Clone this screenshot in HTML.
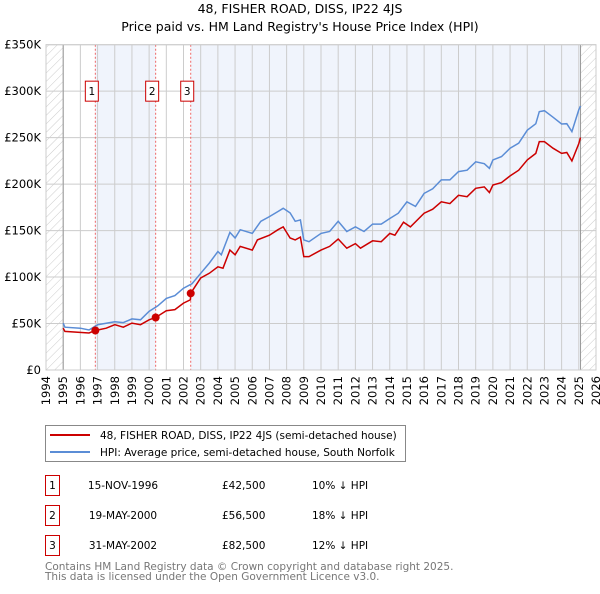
<!DOCTYPE html>
<html><head><meta charset="utf-8"><style>
body{margin:0;background:#fff;font-family:"DejaVu Sans","Liberation Sans",sans-serif;}
svg text{font-family:"DejaVu Sans","Liberation Sans",sans-serif;}
</style></head><body>
<svg id="chart" width="600" height="590" xmlns="http://www.w3.org/2000/svg">
<defs><pattern id="hatch" patternUnits="userSpaceOnUse" width="6" height="6" patternTransform="rotate(45)"><line x1="0" y1="0" x2="0" y2="6" stroke="#ccc" stroke-width="1"/></pattern></defs>
<text x="300" y="13" font-size="12.5" text-anchor="middle">48, FISHER ROAD, DISS, IP22 4JS</text>
<text x="300" y="31" font-size="12.5" text-anchor="middle">Price paid vs. HM Land Registry's House Price Index (HPI)</text>
<g id="plot"></g>
<g>
<rect x="45.5" y="425.5" width="360" height="36" fill="#fff" stroke="#888"/>
<line x1="50" y1="435" x2="90" y2="435" stroke="#cc0000" stroke-width="2"/>
<text x="100" y="439" font-size="10.5">48, FISHER ROAD, DISS, IP22 4JS (semi-detached house)</text>
<line x1="50" y1="452" x2="90" y2="452" stroke="#5b8dd6" stroke-width="2"/>
<text x="100" y="456" font-size="10.5">HPI: Average price, semi-detached house, South Norfolk</text>
</g>
<g font-size="10.5">
<rect x="45.5" y="475.5" width="14" height="20" fill="#fff" stroke="#cc0000"/><text x="52.5" y="489" text-anchor="middle">1</text>
<text x="123" y="489" text-anchor="middle">15-NOV-1996</text><text x="222" y="489">£42,500</text><text x="312" y="489">10% ↓ HPI</text>
<rect x="45.5" y="505.5" width="14" height="20" fill="#fff" stroke="#cc0000"/><text x="52.5" y="519" text-anchor="middle">2</text>
<text x="123" y="519" text-anchor="middle">19-MAY-2000</text><text x="222" y="519">£56,500</text><text x="312" y="519">18% ↓ HPI</text>
<rect x="45.5" y="535.5" width="14" height="20" fill="#fff" stroke="#cc0000"/><text x="52.5" y="549" text-anchor="middle">3</text>
<text x="123" y="549" text-anchor="middle">31-MAY-2002</text><text x="222" y="549">£82,500</text><text x="312" y="549">12% ↓ HPI</text>
</g>
<text x="45" y="570" font-size="10.5" fill="#777">Contains HM Land Registry data © Crown copyright and database right 2025.</text>
<text x="45" y="580" font-size="10.5" fill="#777">This data is licensed under the Open Government Licence v3.0.</text>
</svg>
<script>
const yTicks=[0,50,100,150,200,250,300,350];
const yTickLabels=["£0","£50K","£100K","£150K","£200K","£250K","£300K","£350K"];
const years=[1994,1995,1996,1997,1998,1999,2000,2001,2002,2003,2004,2005,2006,2007,2008,2009,2010,2011,2012,2013,2014,2015,2016,2017,2018,2019,2020,2021,2022,2023,2024,2025,2026];
const hpiT=[1995.0,1995.1,1996,1996.5,1997,1998,1998.5,1999,1999.5,2000,2000.5,2001,2001.5,2002,2002.5,2003,2003.5,2004,2004.2,2004.7,2005,2005.3,2006,2006.5,2007,2007.5,2007.8,2008.2,2008.5,2008.8,2009,2009.3,2010,2010.5,2011,2011.5,2012,2012.5,2013,2013.5,2014,2014.5,2015,2015.5,2016,2016.5,2017,2017.5,2018,2018.5,2019,2019.5,2019.8,2020,2020.5,2021,2021.5,2022,2022.5,2022.7,2023,2023.5,2024,2024.3,2024.6,2025,2025.1];
const hpiV=[50.5,46,45,43,48.7,52,51,55,54,63,69,77,80,88,93,104,115,127.5,124,148,142,151,147,160,165,170.5,174,169,160,161.5,140,138,147,149,160,149,154,149,157,157,163,168.7,181,176,190,195,204.5,204.5,213.5,215,224,222,217,226,229.6,238.6,244,258,265,278,279,272,264.7,265,256.5,280,284];
const priceT=[1995,1995.1,1996.5,1996.87,1997.5,1998,1998.5,1999,1999.5,2000,2000.38,2001,2001.5,2002,2002.4,2002.42,2003,2003.5,2004,2004.3,2004.7,2005,2005.3,2006,2006.3,2007,2007.5,2007.8,2008.2,2008.5,2008.8,2009,2009.3,2010,2010.5,2011,2011.5,2012,2012.3,2013,2013.5,2014,2014.3,2014.8,2015.2,2016,2016.5,2017,2017.5,2018,2018.5,2019,2019.5,2019.8,2020,2020.5,2021,2021.5,2022,2022.5,2022.7,2023,2023.5,2024,2024.3,2024.6,2025,2025.1];
const priceV=[45,41.5,39.8,42.5,45,48.7,46,50.5,48.7,54,56.5,63.8,65,72,75.5,82.5,99,104,111,109.5,129,124,133,129,140,145,151,154,142,140,143,122,122,129,133,141,131,136,131,139,138,147,145,159,154,168.7,173,181,179,188,186.5,195.5,197,191,199,201.6,208.8,215,226,233,245.7,245.7,238.6,233,234,225,243.6,250];
const saleT=[1996.87,2000.38,2002.42];
const saleV=[42.5,56.5,82.5];
const saleLabels=["1","2","3"];
const X0=46,X1=596,Y0=370,Y1=44.7;
const x=t=>X0+(t-1994)/(2026-1994)*(X1-X0);
const y=v=>Y0-v/350*(Y0-Y1);
const NS="http://www.w3.org/2000/svg";
const g=document.getElementById('plot');
function mk(tag,attrs,parent){const e=document.createElementNS(NS,tag);for(const k in attrs)e.setAttribute(k,attrs[k]);(parent||g).appendChild(e);return e;}
const bands=[[1995,saleT[0],"#fff"],[saleT[0],saleT[1],"#f0f4fc"],[saleT[1],saleT[2],"#fff"],[saleT[2],2025.1,"#f0f4fc"]];
bands.forEach(b=>{const r=mk('rect',{x:x(b[0]),y:Y1,width:x(b[1])-x(b[0]),height:Y0-Y1,fill:b[2]});

});
const h1=mk('rect',{x:X0,y:Y1,width:x(1995)-X0,height:Y0-Y1,fill:"url(#hatch)"});


const h2=mk('rect',{x:x(2025.1),y:Y1,width:X1-x(2025.1),height:Y0-Y1,fill:"url(#hatch)"});


years.forEach(yr=>{const l=mk('line',{x1:x(yr),x2:x(yr),y1:Y1,y2:Y0,stroke:"#ccc","stroke-width":1});


const t=mk('text',{x:0,y:0,"font-size":11.5,"text-anchor":"end",transform:`translate(${x(yr)+4},${Y0+6}) rotate(-90)`});
t.textContent=yr;

});
yTicks.forEach((v,i)=>{const l=mk('line',{x1:X0,x2:X1,y1:y(v),y2:y(v),stroke:"#ccc","stroke-width":1});


const t=mk('text',{x:X0-5,y:y(v)+4,"font-size":11.5,"text-anchor":"end"});
t.textContent=yTickLabels[i];

});
[1995,2025.1].forEach(t=>{const l=mk('line',{x1:x(t),x2:x(t),y1:Y1,y2:Y0,stroke:"#999","stroke-width":1});

});
saleT.forEach((t,i)=>{const l=mk('line',{x1:x(t),x2:x(t),y1:Y1,y2:Y0,stroke:"#e66","stroke-width":1,"stroke-dasharray":"2,2"});


const r=mk('rect',{x:x(t)-10,y:y(300)-10,width:13,height:20,fill:"#fff",stroke:"#cc0000"});


const tx=mk('text',{x:x(t)-3.5,y:y(300)+4,"font-size":10.5,"text-anchor":"middle"});
tx.textContent=saleLabels[i];

});
const pth=(T,V)=>T.map((t,i)=>(i?'L':'M')+x(t).toFixed(1)+','+y(V[i]).toFixed(1)).join('');
const hp=mk('path',{d:pth(hpiT,hpiV),fill:"none",stroke:"#5b8dd6","stroke-width":1.5});


const pp=mk('path',{d:pth(priceT,priceV),fill:"none",stroke:"#cc0000","stroke-width":1.5});


saleT.forEach((t,i)=>{const c=mk('circle',{cx:x(t),cy:y(saleV[i]),r:4,fill:"#cc0000"});

});
const fr=mk('rect',{x:X0,y:Y1,width:X1-X0,height:Y0-Y1,fill:"none",stroke:"#ccc"});


</script>
</body></html>
